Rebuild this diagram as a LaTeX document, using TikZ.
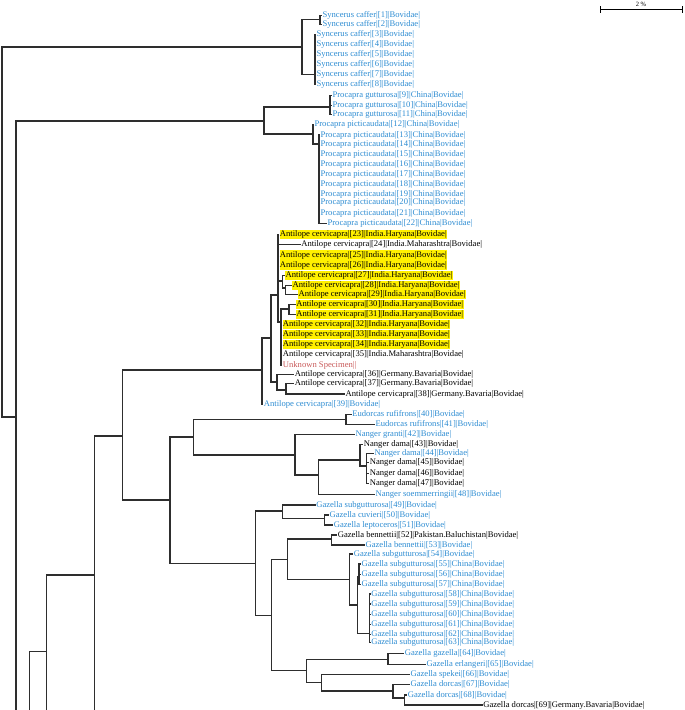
\documentclass[tikz,border=0pt]{standalone}
\usepackage{fontspec}
\setmainfont{Liberation Serif}
\definecolor{taxblue}{RGB}{45,140,210}
\definecolor{unkred}{RGB}{200,90,90}
\definecolor{hiyellow}{RGB}{255,240,0}
\tikzstyle{branch} = [draw=black!82, line width=1.2pt]
\tikzstyle{taxon} = [anchor=west, inner xsep=0.4pt, inner ysep=0.6pt, text height=6.2pt, text depth=1.9pt, font=\fontsize{8.6}{9}\selectfont]
\tikzstyle{bluetaxon} = [taxon, text=taxblue]
\tikzstyle{hltaxon} = [taxon, fill=hiyellow]

\begin{document}
\begin{tikzpicture}[x=1pt,y=-1pt]
            \useasboundingbox (0,0) rectangle (685,710);
            % scale bar
            \coordinate (sbl) at (600,9.7);
            \coordinate (sbr) at (682.3,9.7);
            \draw[black, line width=1pt] (sbl) -- (sbr);
            \draw[black, line width=1pt] ([yshift=3.3pt]sbl) -- ([yshift=-3.3pt]sbl);
            \draw[black, line width=1pt] ([yshift=3.3pt]sbr) -- ([yshift=-3.3pt]sbr);
            \node[font=\fontsize{6.5}{7}\selectfont, inner sep=0pt] (sbt) at (641,4.6) {2 \%};
            % tips
            \foreach \n/\y in {1/15.3,2/24.3}
                \node[bluetaxon] (l\n) at (322,\y) {Syncerus caffer|[\n]|Bovidae|};
            \foreach \n/\y in {3/34.3,4/44.3,5/54.3,6/64.3,7/74.3,8/84.3}
                \node[bluetaxon] (l\n) at (316,\y) {Syncerus caffer|[\n]|Bovidae|};
            \foreach \n/\y in {9/95.3,10/105.3,11/114.6}
                \node[bluetaxon] (l\n) at (332,\y) {Procapra gutturosa|[\n]|China|Bovidae|};
            \node[bluetaxon] (l12) at (314,124.7) {Procapra picticaudata|[12]|China|Bovidae|};
            \foreach \n/\y in {13/135,14/144.7,15/154.5,16/164.6,17/174.6,18/184.5,19/194.5,20/202.5,21/213.3}
                \node[bluetaxon] (l\n) at (320,\y) {Procapra picticaudata|[\n]|China|Bovidae|};
            \node[bluetaxon] (l22) at (327,223.8) {Procapra picticaudata|[22]|China|Bovidae|};
            \foreach \n/\x/\y in {23/279.3/234.7,25/279.3/255,26/279.3/265,27/285/275.5,28/292/285.5,29/298/294.5,
                                  30/295.7/304.3,31/295.7/314.3,32/282.3/324.3,33/282.3/334.3,34/282.3/344.8}
                \node[hltaxon] (l\n) at (\x,\y) {Antilope cervicapra|[\n]|India.Haryana|Bovidae|};
            \node[taxon] (l24) at (300.7,244.3) {Antilope cervicapra|[24]|India.Maharashtra|Bovidae|};
            \node[taxon] (l35) at (282.3,354.7) {Antilope cervicapra|[35]|India.Maharashtra|Bovidae|};
            \node[taxon, text=unkred] (lunk) at (282.3,365) {Unknown Specimen||};
            \foreach \n/\x/\y in {36/294.3/374.3,37/294.3/383.3,38/345/394}
                \node[taxon] (l\n) at (\x,\y) {Antilope cervicapra|[\n]|Germany.Bavaria|Bovidae|};
            \node[bluetaxon] (l39) at (263.3,404.3) {Antilope cervicapra|[39]|Bovidae|};
            \foreach \n/\x/\y in {40/351.7/414.3,41/375/424.3}
                \node[bluetaxon] (l\n) at (\x,\y) {Eudorcas rufifrons|[\n]|Bovidae|};
            \node[bluetaxon] (l42) at (355,434.3) {Nanger granti|[42]|Bovidae|};
            \node[taxon] (l43) at (363.3,444.3) {Nanger dama|[43]|Bovidae|};
            \node[bluetaxon] (l44) at (374,453.5) {Nanger dama|[44]|Bovidae|};
            \foreach \n/\y in {45/462.8,46/473.3,47/483.3}
                \node[taxon] (l\n) at (369.3,\y) {Nanger dama|[\n]|Bovidae|};
            \node[bluetaxon] (l48) at (375,494.5) {Nanger soemmerringii|[48]|Bovidae|};
            \node[bluetaxon] (l49) at (315.7,505) {Gazella subgutturosa|[49]|Bovidae|};
            \node[bluetaxon] (l50) at (329,515) {Gazella cuvieri|[50]|Bovidae|};
            \node[bluetaxon] (l51) at (333.3,525) {Gazella leptoceros|[51]|Bovidae|};
            \node[taxon] (l52) at (337.3,535) {Gazella bennettii|[52]|Pakistan.Baluchistan|Bovidae|};
            \node[bluetaxon] (l53) at (365,545) {Gazella bennettii|[53]|Bovidae|};
            \node[bluetaxon] (l54) at (353.3,554) {Gazella subgutturosa|[54]|Bovidae|};
            \foreach \n/\y in {55/564,56/574.3,57/584.3}
                \node[bluetaxon] (l\n) at (361,\y) {Gazella subgutturosa|[\n]|China|Bovidae|};
            \foreach \n/\y in {58/594,59/604,60/614.3,61/624.3,62/634.3,63/642.7}
                \node[bluetaxon] (l\n) at (370.7,\y) {Gazella subgutturosa|[\n]|China|Bovidae|};
            \node[bluetaxon] (l64) at (404.3,653.3) {Gazella gazella|[64]|Bovidae|};
            \node[bluetaxon] (l65) at (426,664.3) {Gazella erlangeri|[65]|Bovidae|};
            \node[bluetaxon] (l66) at (410,674.3) {Gazella spekei|[66]|Bovidae|};
            \node[bluetaxon] (l67) at (410,684.3) {Gazella dorcas|[67]|Bovidae|};
            \node[bluetaxon] (l68) at (407.3,695) {Gazella dorcas|[68]|Bovidae|};
            \node[taxon] (l69) at (482.7,705) {Gazella dorcas|[69]|Germany.Bavaria|Bovidae|};
            % inner nodes
            \coordinate (root) at (2,232);
            \coordinate (nSyn) at (302,47);
            \coordinate (nS12) at (320,19.5);
            \coordinate (nS38) at (315,74.3);
            \coordinate (r2) at (16,417);
            \coordinate (nProc) at (264,121);
            \coordinate (nGut) at (330,107);
            \coordinate (nPic) at (313,134);
            \coordinate (nPic2) at (319,144);
            \coordinate (n29) at (29.3,651.7);
            \coordinate (n47) at (46.7,651.7);
            \coordinate (n95) at (94.7,575);
            \coordinate (n122) at (122.3,436);
            \coordinate (nA) at (262,370);
            \coordinate (nB) at (271,338);
            \coordinate (nC) at (278,295);
            \coordinate (nG) at (282.5,281);
            \coordinate (nH) at (285.5,288);
            \coordinate (nF) at (281,322);
            \coordinate (n30) at (289,309);
            \coordinate (nD) at (277,382);
            \coordinate (nE) at (286,390);
            \coordinate (n170) at (170,500);
            \coordinate (nNE) at (193.3,437);
            \coordinate (nEud) at (346,419.3);
            \coordinate (nN1) at (295,455);
            \coordinate (nN2) at (318.3,475);
            \coordinate (nN3) at (360,460);
            \coordinate (nN4) at (366.7,466);
            \coordinate (nGaz) at (255.7,563.3);
            \coordinate (nG1) at (282.3,511);
            \coordinate (nG1a) at (324.3,518.3);
            \coordinate (nG2) at (271.7,615.7);
            \coordinate (nG3) at (287.5,559.3);
            \coordinate (nB1) at (331.7,539);
            \coordinate (nS1) at (349.3,579.3);
            \coordinate (nS2) at (357.3,605);
            \coordinate (nS3) at (359,577);
            \coordinate (nS4) at (369.3,633.3);
            \coordinate (nG4) at (306.3,670.7);
            \coordinate (nG5) at (388,659.3);
            \coordinate (nG6) at (321.5,682.7);
            \coordinate (nG7) at (393,691);
            \coordinate (nG8) at (404.5,698);
            \coordinate (bot) at (0,712);
            % branches between inner nodes
            \foreach \p/\c in {root/nSyn,root/r2,r2/nProc,nSyn/nS12,nSyn/nS38,nProc/nGut,nProc/nPic,nPic/nPic2,
                               n29/n47,n47/n95,n95/n122,n122/nA,n122/n170,nA/nB,nB/nC,nB/nD,nC/nG,nG/nH,nC/nF,
                               nF/n30,nD/nE,n170/nNE,n170/nGaz,nNE/nEud,nNE/nN1,nN1/nN2,nN2/nN3,nN3/nN4,
                               nGaz/nG1,nGaz/nG2,nG1/nG1a,nG2/nG3,nG2/nG4,nG3/nB1,nG3/nS1,nS1/nS2,nS2/nS3,
                               nS2/nS4,nG4/nG5,nG4/nG6,nG6/nG7,nG7/nG8}
                \draw[branch] (\p) |- (\c);
            % branches to tips
            \foreach \p/\kids in {nS12/{1,2},nS38/{3,...,8},nGut/{9,10,11},nPic/{12},nPic2/{13,...,22},
                                  nC/{23,24,25,26},nG/{27},nH/{28,29},n30/{30,31},nF/{32,33,34,35,unk},
                                  nD/{36},nE/{37,38},nA/{39},nEud/{40,41},nN1/{42},nN3/{43},nN4/{44,...,47},
                                  nN2/{48},nG1/{49},nG1a/{50,51},nB1/{52,53},nS1/{54},nS3/{55,56,57},
                                  nS4/{58,...,63},nG5/{64,65},nG6/{66},nG7/{67},nG8/{68,69}}
                \foreach \c in \kids
                    \draw[branch] (\p) |- (l\c.west);
            % lines running on below the frame
            \foreach \p in {r2,n29,n47,n95}
                \draw[branch] (\p) -- (\p |- bot);
\end{tikzpicture}
\end{document}
